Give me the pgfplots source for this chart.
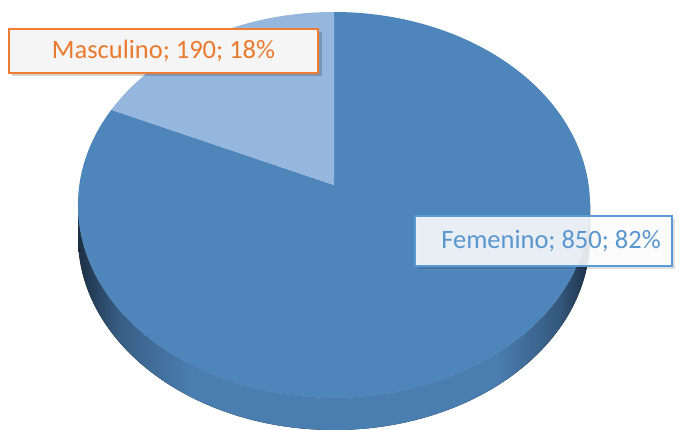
\documentclass[border=0pt]{standalone}
\usepackage{pgfplots}
\pgfplotsset{compat=1.18}
\usepackage{pgfplotstable}
\usepackage{fontspec}
\setmainfont{Carlito}

\definecolor{pieblue}{HTML}{4E86BC}
\definecolor{pielight}{HTML}{95B6DD}
\definecolor{sidedark}{HTML}{1C2F44}
\definecolor{sidemid}{HTML}{4A7DB0}
\definecolor{orangeline}{HTML}{EE7D31}
\definecolor{orangetext}{HTML}{E97A2E}
\definecolor{blueline}{HTML}{5B9BD5}
\definecolor{bluetext}{HTML}{5A97CF}

% side of the pie: dark at both ends, flat blue in between
\pgfdeclarehorizontalshading{sideshade}{100bp}{color(0bp)=(sidedark); color(25bp)=(sidedark);
  color(29bp)=(sidemid!75!black); color(36bp)=(sidemid); color(66bp)=(sidemid);
  color(72bp)=(sidemid!70!black); color(75bp)=(sidedark); color(100bp)=(sidedark)}

\pgfplotstableread{
label     value
Masculino 190
Femenino  850
}\piedata

\begin{document}
\begin{tikzpicture}
\pgfplotstablegetelem{0}{value}\of\piedata \let\vm\pgfplotsretval
\pgfplotstablegetelem{1}{value}\of\piedata \let\vf\pgfplotsretval
\pgfmathsetmacro{\fracm}{\vm/(\vm+\vf)}
\pgfmathsetmacro{\am}{90+360*\fracm}
\pgfmathtruncatemacro{\pctm}{round(100*\fracm)}
\pgfmathtruncatemacro{\pctf}{100-\pctm}
% ellipse of the top face (pt = axis units)
\def\cx{334}\def\cy{225}\def\rx{256}\def\ry{193}\def\th{32}
% slice edge seen in perspective: apex at (334,245)
\pgfmathsetmacro{\den}{1+0.1037*sin(\am)}
\pgfmathsetmacro{\px}{\cx+254.6*cos(\am)/\den}
\pgfmathsetmacro{\py}{245+191*sin(\am)/\den}
\pgfmathsetmacro{\phi}{atan2((\py-\cy)/\ry,(\px-\cx)/\rx)}
\begin{axis}[x=1pt, y=1pt, xmin=0, xmax=679, ymin=0, ymax=430,
    hide axis, clip=false]
  % side
  \fill[shading=sideshade] (\cx-\rx,\cy) arc[start angle=180, end angle=360, x radius=\rx pt, y radius=\ry pt]
      -- ++(0,-\th) arc[start angle=360, end angle=180, x radius=\rx pt, y radius=\ry pt] -- cycle;
  % Femenino slice
  \fill[pieblue] (\cx,245) -- ({\cx+\rx*cos(\phi)},{\cy+\ry*sin(\phi)})
      arc[start angle=\phi, end angle=450, x radius=\rx pt, y radius=\ry pt] -- cycle;
  % Masculino slice
  \fill[pielight] (\cx,245) -- (\cx,\cy+\ry)
      arc[start angle=90, end angle=\phi, x radius=\rx pt, y radius=\ry pt] -- cycle;

  % labels
  \fill[black, opacity=0.18] (12,354) rectangle (322,398);
  \draw[orangeline, line width=2pt, fill=white!96!black] (9,357) rectangle (318,401);
  \node[text=orangetext, font=\fontsize{26.5}{30}\selectfont] at (163.5,379)
      {Masculino; \vm; \pctm\%};

  \fill[black, opacity=0.12] (418,161) rectangle (675,211);
  \draw[blueline, line width=1.5pt, fill=white, fill opacity=0.88] (415,164) rectangle (672,214);
  \node[text=bluetext, font=\fontsize{26.5}{30}\selectfont] at (551,189)
      {Femenino; \vf; \pctf\%};
\end{axis}
\pgfresetboundingbox
\useasboundingbox (0,0) rectangle (679pt,430pt);
\end{tikzpicture}
\end{document}
